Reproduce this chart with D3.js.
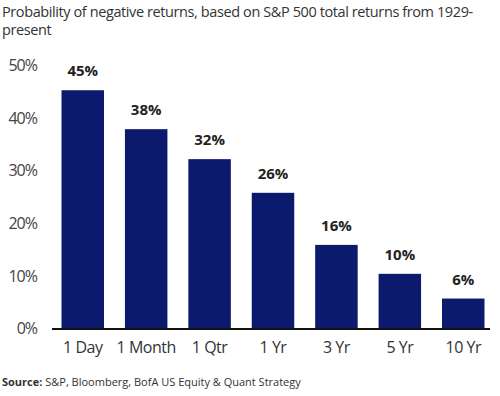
<!DOCTYPE html>
<html><head><meta charset="utf-8">
<script src="https://cdn.jsdelivr.net/npm/d3@7"></script>
<style>body{margin:0;background:#fff}svg{display:block}</style>
</head><body>
<svg id="c" width="500" height="396"></svg>
<script>
const categories = ["1 Day","1 Month","1 Qtr","1 Yr","3 Yr","5 Yr","10 Yr"];
const values = [45.2, 37.8, 32.1, 25.7, 15.8, 10.3, 5.6];
const valueLabels = ["45%","38%","32%","26%","16%","10%","6%"];
const yTicks = [0,10,20,30,40,50];

const svg = d3.select("#c");
const font = "'Open Sans', Lato, sans-serif";
const x = d3.scaleBand().domain(categories).range([52, 494]).paddingInner(0.33).paddingOuter(0.15);
const y = d3.scaleLinear().domain([0,50]).range([328, 65]);

svg.append("text").attr("x",2).attr("y",17).attr("font-family",font).attr("font-size",14.5)
  .attr("fill","#333").attr("letter-spacing","-0.4").text("Probability of negative returns, based on S&P 500 total returns from 1929-");
svg.append("text").attr("x",2).attr("y",35).attr("font-family",font).attr("font-size",14.5)
  .attr("fill","#333").attr("letter-spacing","-0.4").text("present");

svg.selectAll("rect.bar").data(values).join("rect").attr("class","bar")
  .attr("x",(d,i)=>x(categories[i])).attr("width",x.bandwidth())
  .attr("y",d=>y(d)).attr("height",d=>y(0)-y(d)).attr("fill","#0c1a6d");

svg.selectAll("text.vl").data(values).join("text").attr("class","vl")
  .attr("x",(d,i)=>x(categories[i])+x.bandwidth()/2).attr("y",d=>y(d)-14)
  .attr("text-anchor","middle").attr("font-family",font).attr("font-weight","bold")
  .attr("font-size",15).attr("fill","#222").text((d,i)=>valueLabels[i]);

const ya = d3.axisLeft(y).tickValues(yTicks).tickFormat(d=>d+"%").tickSize(0).tickPadding(0);
const yg = svg.append("g").attr("transform","translate(37,0)").call(ya);
yg.select(".domain").remove();
yg.selectAll("text").attr("font-family",font).attr("font-size",16).attr("fill","#444").attr("letter-spacing","-1").attr("dy","0.35em");

const xa = d3.axisBottom(x).tickSize(0).tickPadding(14);
const xg = svg.append("g").attr("transform",`translate(0,${y(0)})`).call(xa);
xg.select(".domain").remove();
xg.selectAll("text").attr("font-family",font).attr("font-size",16).attr("fill","#333").attr("letter-spacing","-0.5");

svg.append("line").attr("x1",52).attr("x2",490).attr("y1",y(0)+1).attr("y2",y(0)+1)
  .attr("stroke","#111").attr("stroke-width",2);

const src = svg.append("text").attr("x",2).attr("y",386).attr("font-family",font).attr("font-size",11).attr("fill","#333");
src.append("tspan").attr("font-weight","bold").text("Source:");
src.append("tspan").text("  S&P, Bloomberg, BofA US Equity & Quant Strategy");
</script>
</body></html>
